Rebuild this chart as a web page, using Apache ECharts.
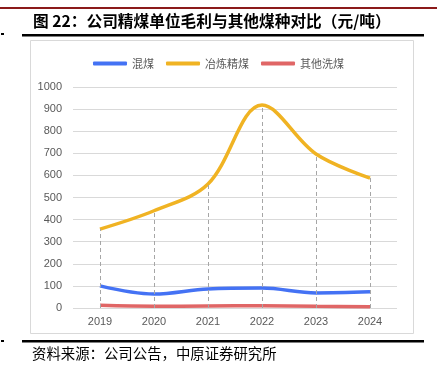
<!DOCTYPE html>
<html>
<head>
<meta charset="utf-8">
<script src="https://cdn.jsdelivr.net/npm/echarts@6/dist/echarts.min.js"></script>
<style>
  html, body { margin: 0; padding: 0; background: #fff; }
  #main { width: 437px; height: 376px; }
</style>
</head>
<body>
<div id="main"></div>
<script>
// 数据
var years = ['2019', '2020', '2021', '2022', '2023', '2024'];
var hunmei = [100, 63, 86, 90, 68, 73];          // 混煤
var yelianjingmei = [357, 440, 561, 918, 697, 588]; // 冶炼精煤
var qitaximei = [12, 8, 9, 10, 8, 6];            // 其他洗煤
var yTicks = [0, 1000, 100];                      // min, max, interval

(function () {
    var chart = echarts.init(document.getElementById('main'));
    var cjk = '"Noto Sans CJK SC", sans-serif';
    var latin = '"Liberation Sans", Arial, sans-serif';

    // 垂直虚线：从 0 到当年最高点
    var dropLines = years.map(function (y, i) {
        var top = Math.max(hunmei[i], yelianjingmei[i], qitaximei[i]);
        return [{coord: [y, 0]}, {coord: [y, top]}];
    });

    var option = {
        backgroundColor: '#fff',
        animation: false,
        graphic: [
            {type: 'rect', shape: {x: 0, y: 7, width: 437, height: 2}, style: {fill: '#8b1a1a'}},
            {type: 'text', left: 33, top: 13, style: {
                text: '图 22：公司精煤单位毛利与其他煤种对比（元/吨）',
                font: 'bold 15.7px ' + cjk, fill: '#000'
            }},
            {type: 'rect', shape: {x: 22, y: 34, width: 402, height: 2.5}, style: {fill: '#000'}},
            {type: 'rect', shape: {x: 1, y: 33, width: 3, height: 2}, style: {fill: '#000'}},
            {type: 'rect', shape: {x: 30.5, y: 40.5, width: 383, height: 293},
                style: {fill: 'none', stroke: '#d9d9d9', lineWidth: 1}},
            {type: 'rect', shape: {x: 22, y: 340, width: 402, height: 2.5}, style: {fill: '#000'}},
            {type: 'rect', shape: {x: 1, y: 340, width: 3, height: 2}, style: {fill: '#000'}},
            {type: 'text', left: 32, top: 346, style: {
                text: '资料来源：公司公告，中原证券研究所',
                font: '14.4px ' + cjk, fill: '#000'
            }}
        ],
        legend: {
            top: 53,
            left: 'center',
            itemWidth: 34,
            itemHeight: 4,
            itemGap: 12,
            icon: 'roundRect',
            textStyle: {fontSize: 11, color: '#595959', fontFamily: cjk},
            data: ['混煤', '冶炼精煤', '其他洗煤']
        },
        grid: {
            left: 73,
            right: 40,
            top: 87,
            bottom: 68
        },
        xAxis: {
            type: 'category',
            data: years,
            boundaryGap: true,
            axisLine: {show: false},
            axisTick: {show: false},
            axisLabel: {color: '#595959', fontSize: 11, fontFamily: latin, margin: 8}
        },
        yAxis: {
            type: 'value',
            min: yTicks[0],
            max: yTicks[1],
            interval: yTicks[2],
            axisLine: {show: false},
            axisTick: {show: false},
            axisLabel: {
                color: '#595959', fontSize: 11, fontFamily: latin, margin: 11,
                formatter: function (v) { return String(v); }
            },
            splitLine: {lineStyle: {color: '#d9d9d9', width: 1}}
        },
        series: [
            {
                name: 'drop',
                type: 'line',
                data: [],
                z: 1,
                silent: true,
                markLine: {
                    symbol: 'none',
                    silent: true,
                    label: {show: false},
                    lineStyle: {color: '#a6a6a6', type: [4, 3], width: 1},
                    data: dropLines
                }
            },
            {
                name: '混煤',
                type: 'line',
                smooth: 0.35,
                symbol: 'none',
                z: 3,
                itemStyle: {color: '#4472f4'},
                lineStyle: {color: '#4472f4', width: 3.5},
                data: hunmei
            },
            {
                name: '冶炼精煤',
                type: 'line',
                smooth: 0.35,
                symbol: 'none',
                z: 3,
                itemStyle: {color: '#f0b323'},
                lineStyle: {color: '#f0b323', width: 3.5},
                data: yelianjingmei
            },
            {
                name: '其他洗煤',
                type: 'line',
                smooth: 0.35,
                symbol: 'none',
                z: 3,
                itemStyle: {color: '#e06666'},
                lineStyle: {color: '#e06666', width: 3.5},
                data: qitaximei
            }
        ]
    };
    chart.setOption(option);
}());
</script>
</body>
</html>
